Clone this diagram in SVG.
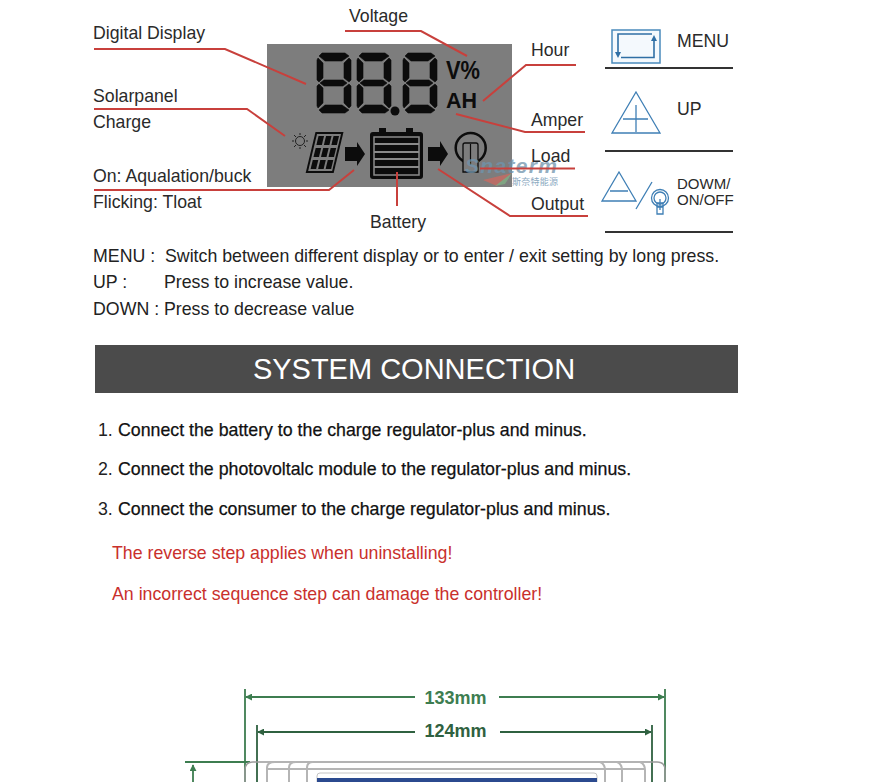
<svg xmlns="http://www.w3.org/2000/svg" width="872" height="782" viewBox="0 0 872 782">
<defs>
<style>
text{font-family:"Liberation Sans",Arial,sans-serif;fill:#2a2a2a}
.l{font-size:17.7px}
.b{font-size:17.75px;fill:#222}
.s{font-size:17.75px;fill:#111;stroke:#111;stroke-width:.25}
.r{font-size:17.75px;fill:#c9302c}
.c{fill:none;stroke:#c8403c;stroke-width:2}
.k{fill:none;stroke:#333;stroke-width:2}
.i{fill:none;stroke:#3f7fb5;stroke-width:1.3}
.seg{fill:#0c0c0c;stroke:#0c0c0c;stroke-width:.6}
.g{fill:none;stroke:#3d7d50;stroke-width:1.8}
.g2{fill:none;stroke:#2f6140;stroke-width:1.8}
.d{fill:none;stroke:#b5b5b5;stroke-width:2}
</style>
<marker id="ga" viewBox="0 0 8 8" refX="7" refY="4" markerWidth="7" markerHeight="7" orient="auto-start-reverse" markerUnits="userSpaceOnUse"><path d="M0 0L8 4L0 8Z" fill="#3d7d50"/></marker>
<marker id="gb" viewBox="0 0 8 8" refX="7" refY="4" markerWidth="7" markerHeight="7" orient="auto-start-reverse" markerUnits="userSpaceOnUse"><path d="M0 0L8 4L0 8Z" fill="#2f6140"/></marker>
<g id="digit">
<path class="seg" d="M5 0H28L32 3L25 8H8L2 3Z"/>
<path class="seg" d="M1 5L6 10V25L2 29L0 27V7Z"/>
<path class="seg" d="M32 5L34 7V27L32 29L27 25V10Z"/>
<path class="seg" d="M7 27H26L30 30L26 33H7L3 30Z"/>
<path class="seg" d="M2 31L6 35V50L1 55L0 53V33Z"/>
<path class="seg" d="M32 31L34 33V53L32 55L27 50V35Z"/>
<path class="seg" d="M8 52H25L32 57L28 60H5L2 57Z"/>
</g>
</defs>
<rect width="872" height="782" fill="#fff"/>

<g id="lcd">
<rect x="267" y="44" width="245" height="143" fill="#7d7d7d"/>
<use href="#digit" x="317" y="53"/>
<use href="#digit" x="357" y="53"/>
<use href="#digit" x="403" y="53"/>
<circle cx="395" cy="111" r="4.5" fill="#0c0c0c"/>
<text x="446" y="79" style="font-size:25px;font-weight:700;fill:#0c0c0c" textLength="34" lengthAdjust="spacingAndGlyphs">V%</text>
<text x="446" y="108" style="font-size:22px;font-weight:700;fill:#0c0c0c" textLength="31" lengthAdjust="spacingAndGlyphs">AH</text>
<g stroke="#222" stroke-width="1" fill="none">
<circle cx="300" cy="141" r="4.5"/>
<path d="M300 133V135M300 147V149M292 141H294M306 141H308M294 135L296 137M304 145L306 147M294 147L296 145M304 137L306 135"/>
</g>
<g transform="translate(315.5,132) skewX(-13.5)">
<rect x="0" y="0" width="28" height="41" fill="#0c0c0c"/>
<rect x="2" y="2" width="24" height="37" fill="#7d7d7d"/>
<g fill="#0c0c0c">
<rect x="4" y="4" width="5.5" height="9"/><rect x="11.5" y="4" width="5.5" height="9"/><rect x="19" y="4" width="5.5" height="9"/>
<rect x="4" y="16" width="5.5" height="9"/><rect x="11.5" y="16" width="5.5" height="9"/><rect x="19" y="16" width="5.5" height="9"/>
<rect x="4" y="28" width="5.5" height="9"/><rect x="11.5" y="28" width="5.5" height="9"/><rect x="19" y="28" width="5.5" height="9"/>
</g>
</g>
<path d="M345 147H357V142L365 154L357 166V161H345Z" fill="#0c0c0c"/>
<path d="M428 147H440V141L448 154L440 166V161H428Z" fill="#0c0c0c"/>
<rect x="379" y="128" width="7" height="5" fill="#0c0c0c"/>
<rect x="406" y="128" width="7" height="5" fill="#0c0c0c"/>
<rect x="370" y="132" width="53" height="47" rx="3" fill="#0c0c0c"/>
<rect x="374" y="137" width="45" height="38" fill="none" stroke="#8a8a8a" stroke-width="1.5"/>
<path d="M374 144H419M374 152H419M374 159H419M374 167H419" stroke="#8a8a8a" stroke-width="2" fill="none"/>
<circle cx="470.700" cy="148" r="15" fill="none" stroke="#0c0c0c" stroke-width="2.5"/>
<path d="M463 172V145Q463 143 465 143H476Q478 143 478 145V172Z" fill="#7d7d7d" stroke="#0c0c0c" stroke-width="1.3"/>
<path d="M470.500 144V165" stroke="#0c0c0c" stroke-width="1.2"/>
</g>

<g id="watermark">
<text x="465" y="173" style="font-size:21px;font-weight:700;font-style:italic;fill:#6f94ad;opacity:.75" textLength="92">Snaterm</text>
<path d="M483 180L512 173L497 186Z" fill="#c86a62" opacity=".8"/>
<path d="M495 186L512 173L505 184Z" fill="#7fa883" opacity=".9"/>
<text x="512" y="185" style="font-size:9px;fill:#8aa9bf;font-family:'Liberation Sans','Noto Sans CJK SC',sans-serif" textLength="46">斯奈特能源</text>
</g>

<g id="connectors">
<path class="c" d="M94 49H225L306 84"/>
<path class="c" d="M345 31H421L467 56"/>
<path class="c" d="M94 109H247L285 136"/>
<path class="c" d="M94 190H329L354 170"/>
<path class="c" d="M397 172V206"/>
<path class="c" d="M483 101L526 65H576"/>
<path class="c" d="M456 114L525 132H585"/>
<path class="c" d="M480 168.500H575"/>
<path class="c" d="M438 169L510 216H588"/>
</g>

<g id="labels">
<text class="l" x="93" y="39">Digital Display</text>
<text class="l" x="349" y="22">Voltage</text>
<text class="l" x="93" y="102">Solarpanel</text>
<text class="l" x="93" y="128">Charge</text>
<text class="l" x="93" y="182">On: Aqualation/buck</text>
<text class="l" x="93" y="208">Flicking: Tloat</text>
<text class="l" x="370" y="228">Battery</text>
<text class="l" x="531" y="56">Hour</text>
<text class="l" x="531" y="126">Amper</text>
<text class="l" x="531" y="162">Load</text>
<text class="l" x="531" y="210">Output</text>
</g>

<g id="menu-key">
<rect x="612" y="30" width="48" height="33" fill="#f4f9fd" stroke="#4a8abc" stroke-width="1.5"/>
<path d="M654 37V57.500H621M618 56V34H652" fill="none" stroke="#2f6fa5" stroke-width="1.6"/>
<path d="M651 41H657L654 35ZM615 52H621L618 58Z" fill="#2f6fa5"/>
<text class="l" x="677" y="47">MENU</text>
<path class="k" d="M605 68H733"/>
</g>
<g id="up-key">
<path class="i" d="M636 92L660 133H612ZM623 119H648M636 105V132"/>
<text class="l" x="677" y="115">UP</text>
<path class="k" d="M605 151H733"/>
</g>
<g id="down-key">
<path class="i" d="M619 172L636 201H602ZM610 191H628M652 182L636 209"/>
<circle cx="660" cy="198" r="8.500" class="i"/>
<circle cx="660" cy="198" r="6" class="i"/>
<path class="i" d="M657 203H663V214H657ZM660 199V210M657 207H663"/>
<text x="677" y="189" style="font-size:15px">DOWM/</text>
<text x="677" y="205" style="font-size:15px">ON/OFF</text>
<path class="k" d="M605 232H733"/>
</g>

<g id="instructions">
<text class="b" x="93" y="262">MENU :</text>
<text class="b" x="165" y="262">Switch between different display or to enter / exit setting by long press.</text>
<text class="b" x="93" y="288">UP :</text>
<text class="b" x="164" y="288">Press to increase value.</text>
<text class="b" x="93" y="315">DOWN : Press to decrease value</text>
</g>

<g id="banner">
<rect x="95" y="345" width="643" height="48" fill="#4b4b4b"/>
<text x="414" y="379" text-anchor="middle" style="font-size:29px;fill:#fff">SYSTEM CONNECTION</text>
</g>

<g id="steps">
<text class="b" x="98" y="436">1.</text><text class="s" x="118" y="436">Connect the battery to the charge regulator-plus and minus.</text>
<text class="b" x="98" y="475">2.</text><text class="s" x="118" y="475">Connect the photovoltalc module to the regulator-plus and minus.</text>
<text class="b" x="98" y="515">3.</text><text class="s" x="118" y="515">Connect the consumer to the charge regulator-plus and minus.</text>
<text class="r" x="112" y="559">The reverse step applies when uninstalling!</text>
<text class="r" x="112" y="600">An incorrect sequence step can damage the controller!</text>
</g>

<g id="dimensions">
<path class="g" d="M245 689V782M665 689V782"/>
<path class="g" d="M415 697H246" marker-end="url(#ga)"/>
<path class="g" d="M499 697H664" marker-end="url(#ga)"/>
<text x="455.500" y="704" text-anchor="middle" style="font-size:18px;font-weight:700;fill:#3d7d50">133mm</text>
<path class="g2" d="M257 725V782M652 725V782"/>
<path class="g2" d="M415 732H258" marker-end="url(#gb)"/>
<path class="g2" d="M500 732H651" marker-end="url(#gb)"/>
<text x="455.500" y="737" text-anchor="middle" style="font-size:18px;font-weight:700;fill:#2f6140">124mm</text>
<path class="g" d="M185 762H250"/>
<path class="g" d="M193 782V765" marker-end="url(#ga)"/>
</g>

<g id="device">
<path d="M245 782V770Q245 762 253 762H657Q665 762 665 770V782" fill="none" stroke="#9a9a9a" stroke-width="1.5"/>
<path class="d" d="M267 769H645" stroke-width="1.5"/>
<path class="d" d="M267 782V768Q267 762 275 762M289 782V768Q289 762 296 762M307 782V768Q307 762 313 762M600 762Q605 764 605 770V782M617 762Q622 764 622 770V782M640 762Q645 764 645 770V782"/>
<rect x="317" y="773" width="280" height="14" rx="3" fill="#fff" stroke="#c4c4c4"/>
<rect x="317" y="778" width="280" height="6" fill="#2b4a8f"/>
</g>
</svg>
